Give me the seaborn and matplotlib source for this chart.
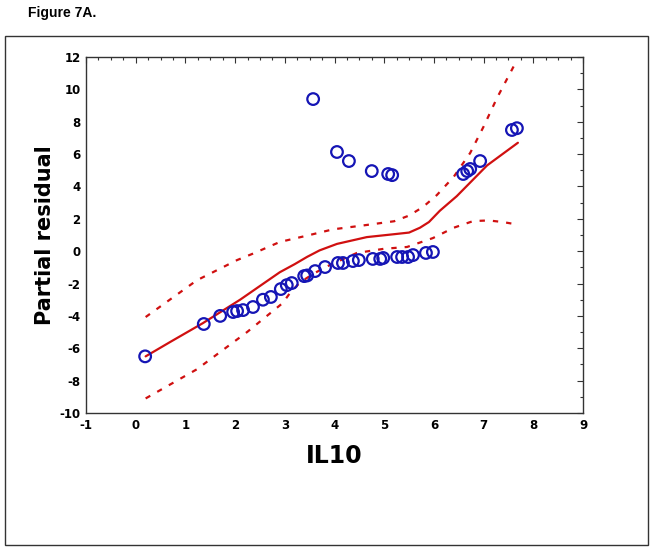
"""
Figure 7A - IL10 partial residual plot (recreated)
"""

import numpy as np
import pandas as pd
import matplotlib
matplotlib.use('Agg')
import matplotlib.pyplot as plt
from matplotlib.patches import Rectangle
from matplotlib.ticker import MultipleLocator
import seaborn as sns

# observed partial residuals
il10 = [0.19, 1.37, 1.70, 1.96, 2.04, 2.16, 2.36, 2.56, 2.72, 2.92, 3.04, 3.14,
        3.39, 3.45, 3.61, 3.81, 4.07, 4.17, 4.37, 4.49, 4.77, 4.92, 4.98, 5.26,
        5.36, 5.48, 5.58, 5.84, 5.98,
        3.57, 4.05, 4.29, 4.75, 5.08, 5.16, 6.59, 6.67, 6.73, 6.93, 7.57, 7.67]
residual = [-6.5, -4.5, -4.0, -3.76, -3.7, -3.64, -3.45, -3.0, -2.83, -2.34, -2.1, -1.97,
            -1.54, -1.5, -1.23, -0.98, -0.73, -0.73, -0.61, -0.55, -0.48, -0.48, -0.42, -0.36,
            -0.36, -0.36, -0.24, -0.11, -0.05,
            9.4, 6.13, 5.57, 4.95, 4.77, 4.7, 4.77, 4.95, 5.08, 5.57, 7.49, 7.6]

# smoothed fit
fit_x = [0.2, 0.7, 1.35, 2.1, 2.9, 3.2, 3.45, 3.7, 4.05, 4.65, 5.2, 5.5, 5.72, 5.9,
         6.12, 6.46, 7.07, 7.69]
fit_y = [-6.5, -5.6, -4.45, -3.0, -1.3, -0.8, -0.35, 0.05, 0.45, 0.87, 1.05, 1.15, 1.45, 1.8,
         2.5, 3.4, 5.3, 6.7]

# confidence band, upper
upper_x = [0.2, 1.23, 2.04, 2.36, 2.9, 3.5, 3.97, 4.6, 5.2, 5.5, 5.78, 6.06, 6.4,
           6.73, 7.0, 7.27, 7.67]
upper_y = [-4.07, -1.8, -0.55, -0.15, 0.57, 1.0, 1.35, 1.6, 1.85, 2.2, 2.73, 3.47, 4.6,
           6.07, 7.7, 9.47, 11.8]

# confidence band, lower
lower_x = [0.2, 1.23, 2.24, 2.96, 3.1, 3.3, 3.57, 3.91, 4.45, 5.0, 5.46, 5.98, 6.4,
           6.79, 7.1, 7.39, 7.67]
lower_y = [-9.1, -7.3, -5.0, -3.2, -2.6, -1.95, -1.4, -0.85, -0.11, 0.15, 0.26, 0.81, 1.45,
           1.86, 1.9, 1.8, 1.65]

x_ticks = list(range(-1, 10))
y_ticks = list(range(-10, 13, 2))

RED = '#d01010'
BLUE = '#1515b5'

sns.set_style('white')
plt.rcParams['font.family'] = ['DejaVu Sans']
plt.rcParams['axes.unicode_minus'] = False
plt.rcParams['text.color'] = 'black'
plt.rcParams['axes.labelcolor'] = 'black'
plt.rcParams['xtick.color'] = 'black'
plt.rcParams['ytick.color'] = 'black'

fig = plt.figure(figsize=(6.51, 5.52), dpi=100)
ax = fig.add_axes([86 / 651, 1 - 413 / 552, 497 / 651, 356 / 552])

# outer frame and caption
fig.patches.append(Rectangle((5 / 651, 1 - 545 / 552), 643 / 651, 509 / 552,
                             transform=fig.transFigure, fill=False,
                             edgecolor='#333333', linewidth=1.0))
fig.text(28 / 651, 1 - 13 / 552, 'Figure 7A.', family='Liberation Sans',
         fontweight='bold', fontsize=10, va='center', ha='left')

line_kw = dict(color=RED, linewidth=1.6, sort=False, estimator=None, ax=ax)
sns.lineplot(x=fit_x, y=fit_y, **line_kw)
sns.lineplot(x=upper_x, y=upper_y, linestyle=(0, (2.4, 3.6)), **line_kw)
sns.lineplot(x=lower_x, y=lower_y, linestyle=(0, (2.4, 3.6)), **line_kw)

sns.scatterplot(x=il10, y=residual, ax=ax, marker='o', s=70,
                facecolor='none', edgecolor=BLUE, linewidth=1.6, zorder=3)

ax.set_xlim(-1, 9)
ax.set_ylim(-10, 12)
ax.set_xticks(x_ticks)
ax.set_yticks(y_ticks)
ax.xaxis.set_minor_locator(MultipleLocator(0.25))
ax.yaxis.set_minor_locator(MultipleLocator(1))
ax.tick_params(which='both', direction='in', top=True, right=True,
               color='#333333', width=0.8)
ax.tick_params(which='major', length=4, labelsize=8.5, pad=4)
ax.tick_params(which='minor', length=2.5)
for lab in ax.get_xticklabels() + ax.get_yticklabels():
    lab.set_fontweight('bold')
for sp in ax.spines.values():
    sp.set_visible(True)
    sp.set_color('#333333')
    sp.set_linewidth(1.0)

ax.set_xlabel('IL10', fontsize=17, fontweight='bold', labelpad=9)
ax.set_ylabel('Partial residual', fontsize=15, fontweight='bold', labelpad=3)

plt.savefig('out.png', dpi=100)
